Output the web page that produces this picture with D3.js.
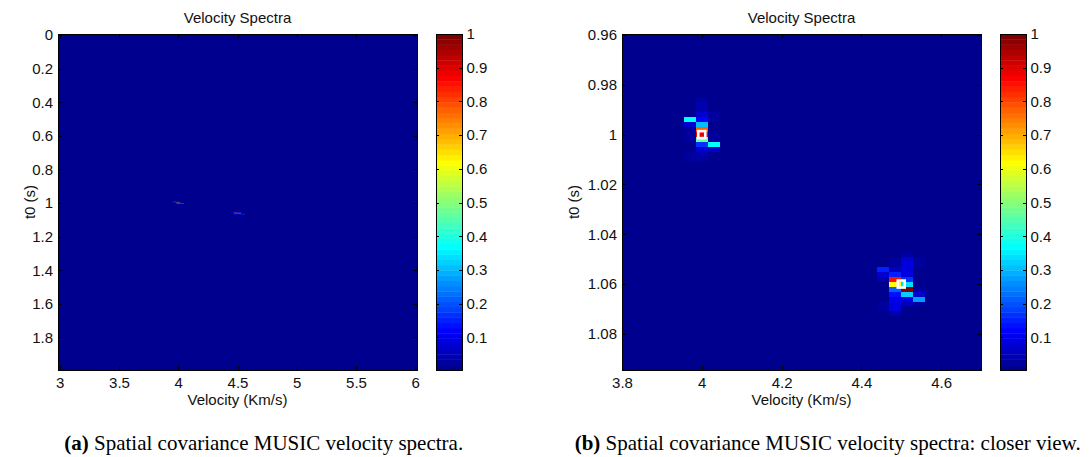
<!DOCTYPE html>
<html><head><meta charset="utf-8">
<script src="https://cdn.jsdelivr.net/npm/d3@7"></script>
<style>
html,body{margin:0;padding:0;background:#fff;}
svg{display:block;}
</style></head><body>
<svg id="chart" width="1091" height="457"></svg>
<script>
// ---------------- data ----------------
const velocityStep = 0.030303;   // km/s between grid columns
const t0Step = 0.002;            // s between grid rows

// sparse spectrum cells that differ from the background (velocity, t0, normalised power)
const cellVelocity = [
  3.9697,3.9697,3.9697,3.9697,3.9697,3.9697,3.9697,
  4.0000,4.0000,4.0000,4.0000,4.0000,4.0000,4.0000,4.0000,4.0000,4.0000,4.0000,4.0000,4.0000,
  4.0303,4.0303,4.0303,4.0303,4.0303,4.0303,
  4.4545,4.4545,4.4545,4.4545,4.4545,
  4.4848,4.4848,4.4848,4.4848,4.4848,4.4848,4.4848,4.4848,4.4848,4.4848,4.4848,4.4848,
  4.5152,4.5152,4.5152,4.5152,4.5152,4.5152,4.5152,4.5152,4.5152,4.5152,4.5152,
  4.5455,4.5455,4.5455,4.5455,4.5455,4.5455
];
const cellT0 = [
  0.994,0.996,0.998,1.000,1.002,1.008,1.010,
  0.986,0.988,0.990,0.992,0.994,0.996,0.998,1.000,1.002,1.004,1.006,1.008,1.010,
  0.992,0.994,1.000,1.002,1.004,1.006,
  1.054,1.056,1.058,1.068,1.070,
  1.050,1.052,1.054,1.056,1.058,1.060,1.062,1.064,1.066,1.068,1.070,1.072,
  1.048,1.050,1.052,1.054,1.056,1.058,1.060,1.062,1.064,1.066,1.068,
  1.050,1.052,1.062,1.064,1.066,1.068
];
const cellPower = [
  0.37,0.07,0.02,0.02,0.02,0.02,0.02,
  0.02,0.035,0.04,0.07,0.125,0.30,0.78,0.88,0.47,0.16,0.07,0.035,0.03,
  0.025,0.025,0.025,0.025,0.37,0.07,
  0.145,0.07,0.035,0.025,0.025,
  0.025,0.03,0.05,0.15,0.85,0.62,0.22,0.14,0.10,0.09,0.085,0.04,
  0.03,0.07,0.085,0.09,0.095,0.16,0.34,1.00,0.33,0.085,0.05,
  0.03,0.025,0.03,0.07,0.28,0.025
];
const backgroundPower = 0;

// true source positions marked in the close-up
const markerVelocity = [4.0, 4.5];
const markerT0 = [1.0, 1.06];

// tick values
const fullXTicks = [3, 3.5, 4, 4.5, 5, 5.5, 6];
const fullYTicks = [0, 0.2, 0.4, 0.6, 0.8, 1, 1.2, 1.4, 1.6, 1.8];
const zoomXTicks = [3.8, 4, 4.2, 4.4, 4.6];
const zoomYTicks = [0.96, 0.98, 1, 1.02, 1.04, 1.06, 1.08];
const colorbarTicks = [0.1, 0.2, 0.3, 0.4, 0.5, 0.6, 0.7, 0.8, 0.9, 1];

const titleText = "Velocity Spectra";
const xLabelText = "Velocity (Km/s)";
const yLabelText = "t0 (s)";
const captionA = ["(a)", " Spatial covariance MUSIC velocity spectra."];
const captionB = ["(b)", " Spatial covariance MUSIC velocity spectra: closer view."];

// ---------------- drawing ----------------
const FONT = "'Liberation Sans', Arial, Helvetica, sans-serif";
const SERIF = "'Liberation Serif', 'Times New Roman', Times, serif";
const FS = 15;
const cMin = 0.003, cMax = 1, nColors = 64;
const svg = d3.select("#chart");
const defs = svg.append("defs");

function jetIndex(z) {
  let i = Math.floor((z - cMin) / (cMax - cMin) * nColors) + 1;
  return Math.max(1, Math.min(nColors, i));
}
function jetColor(i) {
  const v = i / nColors, c = x => Math.max(0, Math.min(1, x));
  return d3.rgb(255 * c(1.5 - Math.abs(4 * v - 3)),
                255 * c(1.5 - Math.abs(4 * v - 2)),
                255 * c(1.5 - Math.abs(4 * v - 1))).toString();
}
const jet = z => jetColor(jetIndex(z));

function styleAxis(sel, showText) {
  sel.select(".domain").remove();
  sel.attr("font-family", FONT).attr("font-size", FS);
  sel.selectAll(".tick line").attr("stroke", "#000").attr("shape-rendering", "crispEdges");
  sel.selectAll(".tick text").attr("fill", "#111");
  if (!showText) sel.selectAll(".tick text").remove();
}

function panel(cfg) {
  const g = svg.append("g");
  const x = d3.scaleLinear().domain(cfg.xDomain).range([cfg.left, cfg.right]);
  const y = d3.scaleLinear().domain(cfg.yDomain).range([cfg.top, cfg.bottom]);
  const clipId = "clip" + cfg.id;
  defs.append("clipPath").attr("id", clipId).append("rect")
    .attr("x", cfg.left).attr("y", cfg.top)
    .attr("width", cfg.right - cfg.left).attr("height", cfg.bottom - cfg.top);

  const plot = g.append("g").attr("clip-path", `url(#${clipId})`);
  plot.append("rect")
    .attr("x", x(cfg.xDomain[0])).attr("y", y(cfg.yDomain[0]))
    .attr("width", x(cfg.xDomain[1]) - x(cfg.xDomain[0]))
    .attr("height", y(cfg.yDomain[1]) - y(cfg.yDomain[0]))
    .attr("fill", jet(backgroundPower));

  plot.selectAll("rect.cell").data(d3.range(cellPower.length)).join("rect")
    .attr("class", "cell")
    .attr("x", i => x(cellVelocity[i] - velocityStep / 2))
    .attr("width", i => x(cellVelocity[i] + velocityStep / 2) - x(cellVelocity[i] - velocityStep / 2))
    .attr("y", i => y(cellT0[i] - t0Step / 2))
    .attr("height", i => y(cellT0[i] + t0Step / 2) - y(cellT0[i] - t0Step / 2))
    .attr("fill", i => jet(cellPower[i]))
    .attr("shape-rendering", cfg.crisp ? "crispEdges" : "auto");

  if (cfg.markers) {
    const ms = 7;
    plot.selectAll("rect.marker").data(d3.range(markerVelocity.length)).join("rect")
      .attr("class", "marker")
      .attr("x", i => x(markerVelocity[i]) - ms / 2)
      .attr("y", i => y(markerT0[i]) - ms / 2)
      .attr("width", ms).attr("height", ms)
      .attr("fill", "none").attr("stroke", "#fff").attr("stroke-width", 2.6);
  }

  const tl = 3.6;
  const fmt = d => String(d);
  g.append("g").attr("transform", `translate(0,${cfg.bottom})`)
    .call(d3.axisBottom(x).tickValues(cfg.xTicks).tickFormat(fmt).tickSize(-tl).tickSizeOuter(0).tickPadding(7.4))
    .call(s => styleAxis(s, true));
  g.append("g").attr("transform", `translate(0,${cfg.top})`)
    .call(d3.axisTop(x).tickValues(cfg.xTicks).tickSize(-tl).tickSizeOuter(0))
    .call(s => styleAxis(s, false));
  g.append("g").attr("transform", `translate(${cfg.left},0)`)
    .call(d3.axisLeft(y).tickValues(cfg.yTicks).tickFormat(fmt).tickSize(-tl).tickSizeOuter(0).tickPadding(5))
    .call(s => styleAxis(s, true));
  g.append("g").attr("transform", `translate(${cfg.right},0)`)
    .call(d3.axisRight(y).tickValues(cfg.yTicks).tickSize(-tl).tickSizeOuter(0))
    .call(s => styleAxis(s, false));

  g.append("rect").attr("x", cfg.left).attr("y", cfg.top)
    .attr("width", cfg.right - cfg.left).attr("height", cfg.bottom - cfg.top)
    .attr("fill", "none").attr("stroke", "#000").attr("stroke-width", 1)
    .attr("shape-rendering", "crispEdges");

  // colour bar
  const cy = d3.scaleLinear().domain([cMin, cMax]).range([cfg.bottom, cfg.top]);
  const cb = g.append("g");
  cb.selectAll("rect.band").data(d3.range(1, nColors + 1)).join("rect")
    .attr("class", "band")
    .attr("x", cfg.cbLeft).attr("width", cfg.cbRight - cfg.cbLeft)
    .attr("y", i => cy(cMin + i / nColors * (cMax - cMin)))
    .attr("height", i => cy(cMin + (i - 1) / nColors * (cMax - cMin)) - cy(cMin + i / nColors * (cMax - cMin)) + 0.4)
    .attr("fill", i => jetColor(i));
  cb.append("g").attr("transform", `translate(${cfg.cbRight},0)`)
    .call(d3.axisRight(cy).tickValues(colorbarTicks).tickFormat(fmt).tickSize(-2.6).tickSizeOuter(0).tickPadding(4.5))
    .call(s => styleAxis(s, true));
  cb.append("g").attr("transform", `translate(${cfg.cbLeft},0)`)
    .call(d3.axisLeft(cy).tickValues(colorbarTicks).tickSize(-2.6).tickSizeOuter(0))
    .call(s => styleAxis(s, false));
  cb.append("rect").attr("x", cfg.cbLeft).attr("y", cfg.top)
    .attr("width", cfg.cbRight - cfg.cbLeft).attr("height", cfg.bottom - cfg.top)
    .attr("fill", "none").attr("stroke", "#000").attr("shape-rendering", "crispEdges");

  // texts
  const cx = (cfg.left + cfg.right) / 2;
  g.append("text").attr("x", cx).attr("y", 23).attr("text-anchor", "middle")
    .attr("font-family", FONT).attr("font-size", FS).attr("fill", "#111").text(titleText);
  g.append("text").attr("x", cx).attr("y", 405).attr("text-anchor", "middle")
    .attr("font-family", FONT).attr("font-size", FS).attr("fill", "#111").text(xLabelText);
  g.append("text").attr("transform", `translate(${cfg.ylabelX},${(cfg.top + cfg.bottom) / 2}) rotate(-90)`)
    .attr("text-anchor", "middle")
    .attr("font-family", FONT).attr("font-size", FS).attr("fill", "#111").text(yLabelText);

  const cap = g.append("text").attr("x", cfg.capX).attr("y", 450).attr("text-anchor", "middle")
    .attr("font-family", SERIF).attr("font-size", 21).attr("fill", "#000");
  cap.append("tspan").attr("font-weight", "bold").text(cfg.caption[0]);
  cap.append("tspan").text(cfg.caption[1]);
}

panel({
  id: "a", left: 58, right: 417, top: 34, bottom: 370,
  xDomain: [3 - velocityStep / 2, 6 + velocityStep / 2], yDomain: [-0.006, 1.994],
  xTicks: fullXTicks, yTicks: fullYTicks,
  cbLeft: 436, cbRight: 462, ylabelX: 35, crisp: false, markers: false,
  caption: captionA, capX: 263.7
});
panel({
  id: "b", left: 622, right: 981, top: 34, bottom: 370,
  xDomain: [3.8, 4.7], yDomain: [0.9596, 1.0945],
  xTicks: zoomXTicks, yTicks: zoomYTicks,
  cbLeft: 1000, cbRight: 1026, ylabelX: 579, crisp: true, markers: true,
  caption: captionB, capX: 827.7
});
</script>
</body></html>
